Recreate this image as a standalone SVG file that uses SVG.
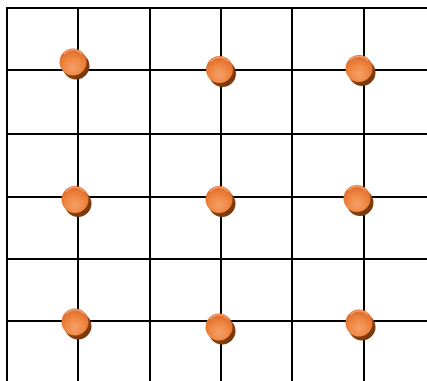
<svg xmlns="http://www.w3.org/2000/svg" width="427" height="381" viewBox="0 0 427 381">
<style>
.g{stroke:#000;stroke-width:2;fill:none}
.sh{fill:url(#shd)}
.fr{fill:url(#face)}
.hl{fill:none;stroke:#f6b080;stroke-width:1.2;opacity:0.8}
</style>
<defs>
<linearGradient id="shd" x1="0" y1="0" x2="1" y2="1">
<stop offset="0" stop-color="#a8500f"/>
<stop offset="1" stop-color="#6e330a"/>
</linearGradient>
<radialGradient id="face" cx="0.5" cy="0.7" r="0.6">
<stop offset="0" stop-color="#f5a06a"/>
<stop offset="0.6" stop-color="#ee8640"/>
<stop offset="1" stop-color="#e07030"/>
</radialGradient>
<g id="ball">
<circle class="sh" cx="3" cy="4" r="13.5"/>
<circle class="fr" cx="0" cy="0" r="13.5"/>
<path class="hl" d="M-9,-8 A12,12 0 0 1 9,-8"/>
</g>
</defs>
<g id="grid">
<path class="g" d="M7,8H427M7,70H427M7,134H427M7,197H427M7,259H427M7,321H427"/>
<path class="g" d="M7,7V381M78,8V381M150,8V381M221,8V381M292,8V381M364,8V381"/>
</g>
<g id="b1"><use href="#ball" x="73" y="62"/></g>
<g id="b2"><use href="#ball" x="219.5" y="69.5"/></g>
<g id="b3"><use href="#ball" x="359" y="68.5"/></g>
<g id="b4"><use href="#ball" x="75" y="199.5"/></g>
<g id="b5"><use href="#ball" x="219" y="199.5"/></g>
<g id="b6"><use href="#ball" x="357" y="198.5"/></g>
<g id="b7"><use href="#ball" x="75" y="322"/></g>
<g id="b8"><use href="#ball" x="219" y="327"/></g>
<g id="b9"><use href="#ball" x="359" y="323"/></g>
</svg>
